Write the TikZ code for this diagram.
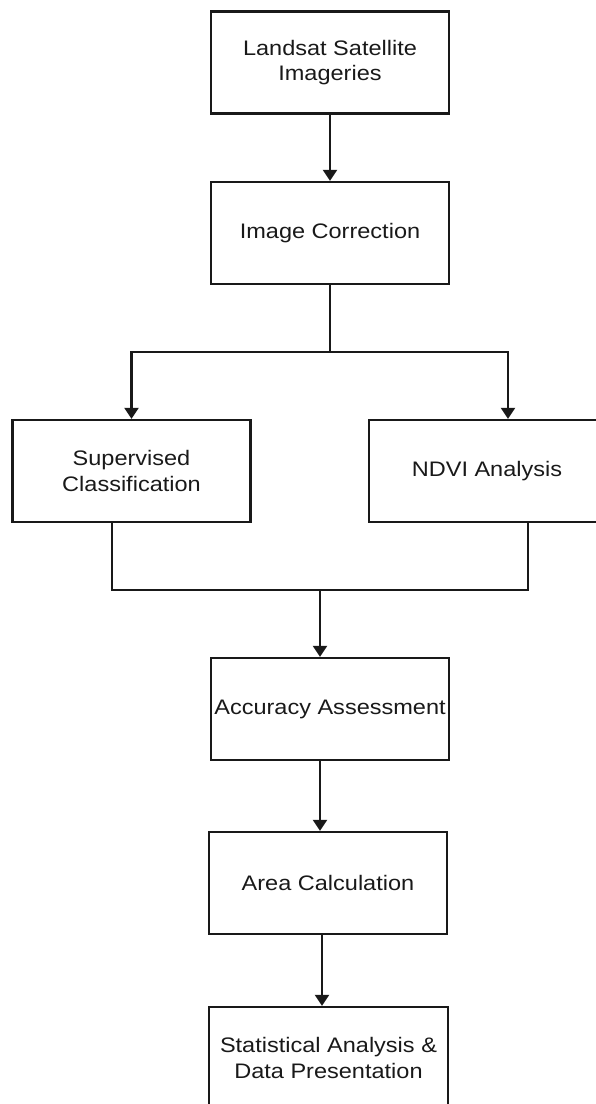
\documentclass[tikz,border=0pt]{standalone}
\usepackage{fontspec}
\setmainfont{Liberation Sans}[FakeStretch=1.12]
\usetikzlibrary{arrows.meta}
\begin{document}
\begin{tikzpicture}[x=1pt,y=1pt,
  box/.style={draw=black!90, line width=2.2pt, rectangle, inner sep=0pt,
    minimum width=238pt, minimum height=102pt, align=center,
    text=black!90, font=\fontsize{21}{25.7}\selectfont},
  arr/.style={draw=black!90, line width=2.2pt, -{Triangle[length=11pt,width=14pt]}},
  ln/.style={draw=black!90, line width=2.2pt}]
\useasboundingbox (0,0) rectangle (596,-1104);
\clip (0,0) rectangle (596,-1104);
\node[box] (n1) at (330,-62.5) {Landsat Satellite\\Imageries};
\node[box] (n2) at (330,-233) {Image Correction};
\node[box] (n3) at (131.5,-471) {Supervised\\Classification};
\node[box, minimum width=236pt] (n4) at (487,-471) {NDVI Analysis};
\node[box] (n5) at (330,-709) {Accuracy Assessment};
\node[box] (n6) at (328,-883) {Area Calculation};
\node[box, minimum width=239pt] (n7) at (328.5,-1058) {Statistical Analysis \&\\Data Presentation};
\coordinate (b) at (330,-352);
\coordinate (j) at (320,-590);
\draw[arr] (n1) -- (n2);
\draw[ln] (n2.south) -- (b);
\draw[arr] (b) -| (n3.north);
\draw[arr] (b) -| ([xshift=21pt]n4.north);
\draw[ln] ([xshift=-19.5pt]n3.south) |- (j);
\draw[ln] ([xshift=41pt]n4.south) |- (j);
\draw[arr] (j) -- (j |- n5.north);
\draw[arr] ([xshift=-10pt]n5.south) -- ([xshift=-10pt]n5.south |- n6.north);
\draw[arr] ([xshift=-6pt]n6.south) -- ([xshift=-6pt]n6.south |- n7.north);
\end{tikzpicture}
\end{document}
